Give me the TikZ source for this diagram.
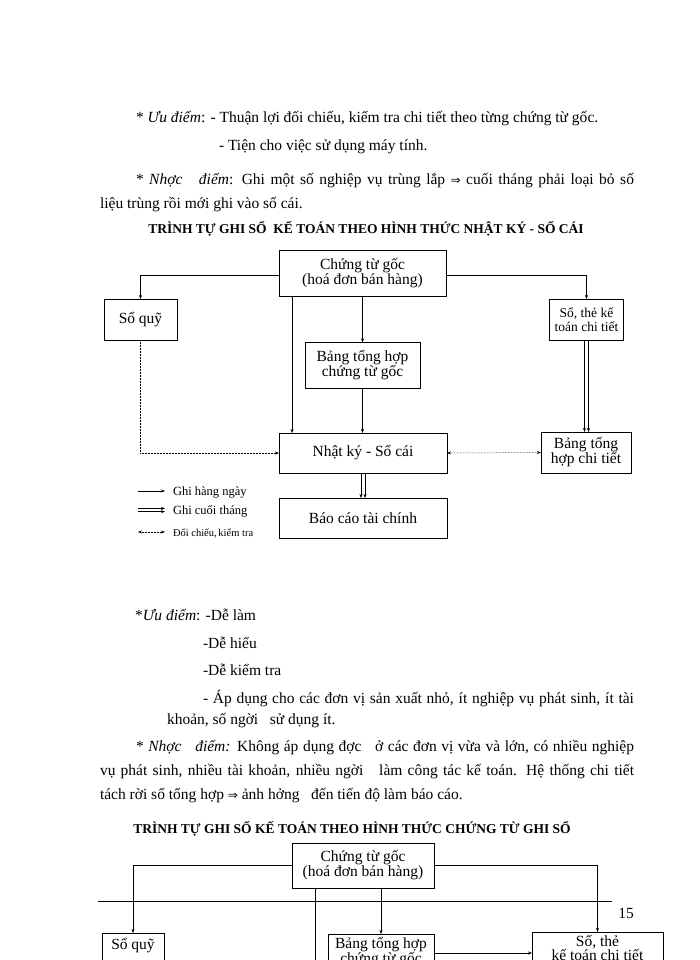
\documentclass[tikz,border=0pt]{standalone}
\usepackage{fontspec}
\setmainfont{Liberation Serif}
\usetikzlibrary{arrows.meta}
\begin{document}
\begin{tikzpicture}[x=1pt,y=-1pt,
  every node/.style={inner sep=0pt, outer sep=0pt},
  body/.style={anchor=base west, font=\fontsize{15.5}{17}\selectfont},
  ttl/.style={anchor=base, font=\bfseries\fontsize{13.5}{15}\selectfont},
  bx/.style={draw, line width=0.6pt, align=center, font=\fontsize{15.5}{15}\selectfont},
  sbx/.style={draw, line width=0.6pt, align=center, font=\fontsize{13.5}{13.5}\selectfont},
  cutbx/.style={draw, line width=0.6pt, align=center, anchor=north, inner ysep=3pt, text depth=40pt, font=\fontsize{15.5}{14}\selectfont},
  ln/.style={line width=0.5pt},
  arr/.style={line width=0.5pt, -{Stealth[length=4pt,width=3pt]}},
  dotarr/.style={line width=0.5pt, densely dotted, -{Stealth[length=4pt,width=3pt]}},
  dotarrb/.style={line width=0.5pt, densely dotted, {Stealth[length=4pt,width=3pt]}-{Stealth[length=4pt,width=3pt]}},
  leg/.style={anchor=base west, font=\fontsize{12.5}{13}\selectfont}
]
\useasboundingbox (0,0) rectangle (700,960);
\clip (0,0) rectangle (700,960);
\fill[white] (0,0) rectangle (700,960);

% ---------- text block 1 ----------
\node[body] (t1) at (136,123) {* \textit{Ưu điểm}: - Thuận lợi đối chiếu, kiểm tra chi tiết theo từng chứng từ gốc.};
\node[body] (t2) at (219,151) {- Tiện cho việc sử dụng máy tính.};
\node[body] (t3) at (136,184) {\makebox[498pt][s]{* \textit{Nhợc\ \ \ điểm}: Ghi một số nghiệp vụ trùng lắp {\fontspec{DejaVu Sans}\fontsize{12}{12}\selectfont ⇒} cuối tháng phải loại bỏ số}};
\node[body] (t4) at (100,208) {liệu trùng rồi mới ghi vào sổ cái.};
\node[ttl] (ttl1) at (366,233) {TRÌNH TỰ GHI SỔ\ \ KẾ TOÁN THEO HÌNH THỨC NHẬT KÝ - SỔ CÁI};

% ---------- diagram 1 ----------
\node[bx, minimum width=167pt, minimum height=46pt] (cg1) at (362.5,273) {Chứng từ gốc\\(hoá đơn bán hàng)};
\node[bx, minimum width=73pt, minimum height=41pt] (sq1) at (140.5,319.5) {Sổ quỹ};
\node[sbx, minimum width=74pt, minimum height=41pt] (st1) at (586.5,319.5) {Sổ, thẻ kế\\toán chi tiết};
\node[bx, minimum width=115pt, minimum height=46pt] (bt1) at (362.5,365.5) {Bảng tổng hợp\\chứng từ gốc};
\node[bx, minimum width=168pt, minimum height=40pt] (nk1) at (363,453) {Nhật ký - Sổ cái};
\node[bx, minimum width=168pt, minimum height=40pt] (bc1) at (363,518) {Báo cáo tài chính};
\node[bx, minimum width=90pt, minimum height=41pt] (bh1) at (586,452.5) {Bảng tổng\\hợp chi tiết};

\draw[arr] ([yshift=-2pt]cg1.west) -| (sq1.north);
\draw[arr] ([yshift=-2pt]cg1.east) -| (st1.north);
\draw[arr] ([xshift=13pt]cg1.south west) -- ([xshift=13pt]nk1.north west);
\draw[arr] (cg1.south) -- (bt1.north);
\draw[arr] (bt1.south) -- (bt1.south |- nk1.north);
\draw[arr] ([xshift=-2pt]st1.south) -- ([xshift=-2pt]st1.south |- bh1.north);
\draw[arr] ([xshift=2pt]st1.south) -- ([xshift=2pt]st1.south |- bh1.north);
\draw[arr] ([xshift=-2pt]nk1.south) -- ([xshift=-2pt]bc1.north);
\draw[arr] ([xshift=2pt]nk1.south) -- ([xshift=2pt]bc1.north);
\draw[dotarr] (sq1.south) |- (nk1.west);
\draw[dotarrb] (nk1.east) -- (bh1.west);

% legend
\coordinate (l1a) at (138,491); \coordinate (l1b) at (165,491);
\coordinate (l2a) at (138,510); \coordinate (l2b) at (165,510);
\coordinate (l3a) at (138,532); \coordinate (l3b) at (165,532);
\draw[arr] (l1a) -- (l1b);
\draw[arr] ([yshift=-1.6pt]l2a) -- ([yshift=-1.6pt]l2b);
\draw[arr] ([yshift=1.6pt]l2a) -- ([yshift=1.6pt]l2b);
\draw[dotarrb] (l3a) -- (l3b);
\node[leg] (lg1) at (173,495) {Ghi hàng ngày};
\node[leg] (lg2) at (173,514.5) {Ghi cuối tháng};
\node[leg, font=\fontsize{10.5}{11}\selectfont] (lg3) at (173,536) {Đối chiếu,\,kiểm tra};

% ---------- text block 2 ----------
\node[body] (u1) at (135,620) {*\textit{Ưu điểm}: -Dễ làm};
\node[body] (u2) at (203,648) {-Dễ hiểu};
\node[body] (u3) at (203,675) {-Dễ kiểm tra};
\node[body] (u4) at (203,703) {\makebox[431pt][s]{- Áp dụng cho các đơn vị sản xuất nhỏ, ít nghiệp vụ phát sinh, ít tài}};
\node[body] (u5) at (167,724) {khoản, số ngời\ \ \ sử dụng ít.};
\node[body] (u6) at (136,751) {\makebox[498pt][s]{* \textit{Nhợc\ \ \ điểm:} Không áp dụng đợc\ \ \ ở các đơn vị vừa và lớn, có nhiều nghiệp}};
\node[body] (u7) at (100,775) {\makebox[534pt][s]{vụ phát sinh, nhiều tài khoản, nhiều ngời\ \ \ làm công tác kế toán. Hệ thống chi tiết}};
\node[body] (u8) at (100,799) {tách rời sổ tổng hợp {\fontspec{DejaVu Sans}\fontsize{12}{12}\selectfont ⇒} ảnh hởng\ \ \ đến tiến độ làm báo cáo.};
\node[ttl] (ttl2) at (352,833) {TRÌNH TỰ GHI SỔ KẾ TOÁN THEO HÌNH THỨC CHỨNG TỪ GHI SỔ};

% ---------- diagram 2 ----------
\node[bx, minimum width=142pt, minimum height=45pt] (cg2) at (363,865.5) {Chứng từ gốc\\(hoá đơn bán hàng)};
\node[cutbx, minimum width=62pt, inner ysep=5pt] (sq2) at (133,933) {Sổ quỹ};
\node[cutbx, minimum width=106pt] (bt2) at (381,934) {Bảng tổng hợp\\chứng từ gốc};
\node[cutbx, minimum width=131pt] (st2) at (597.5,932) {Sổ, thẻ\\kế toán chi tiết};

\draw[arr] (cg2.west) -| (sq2.north);
\draw[arr] (cg2.east) -| (st2.north);
\draw[arr] (cg2.south -| bt2.north) -- (bt2.north);
\draw[ln] ([xshift=23pt]cg2.south west) -- ++(0,80);
\draw[arr] ([yshift=-19pt]bt2.north east) -- ([yshift=-19pt]bt2.north east -| st2.west);

% footer
\coordinate (f1) at (98,901); \coordinate (f2) at (612,901);
\draw[line width=0.8pt] (f1) -- (f2);
\node[anchor=base, font=\fontsize{15.5}{15}\selectfont] (pg) at (626,918) {15};
\end{tikzpicture}
\end{document}
